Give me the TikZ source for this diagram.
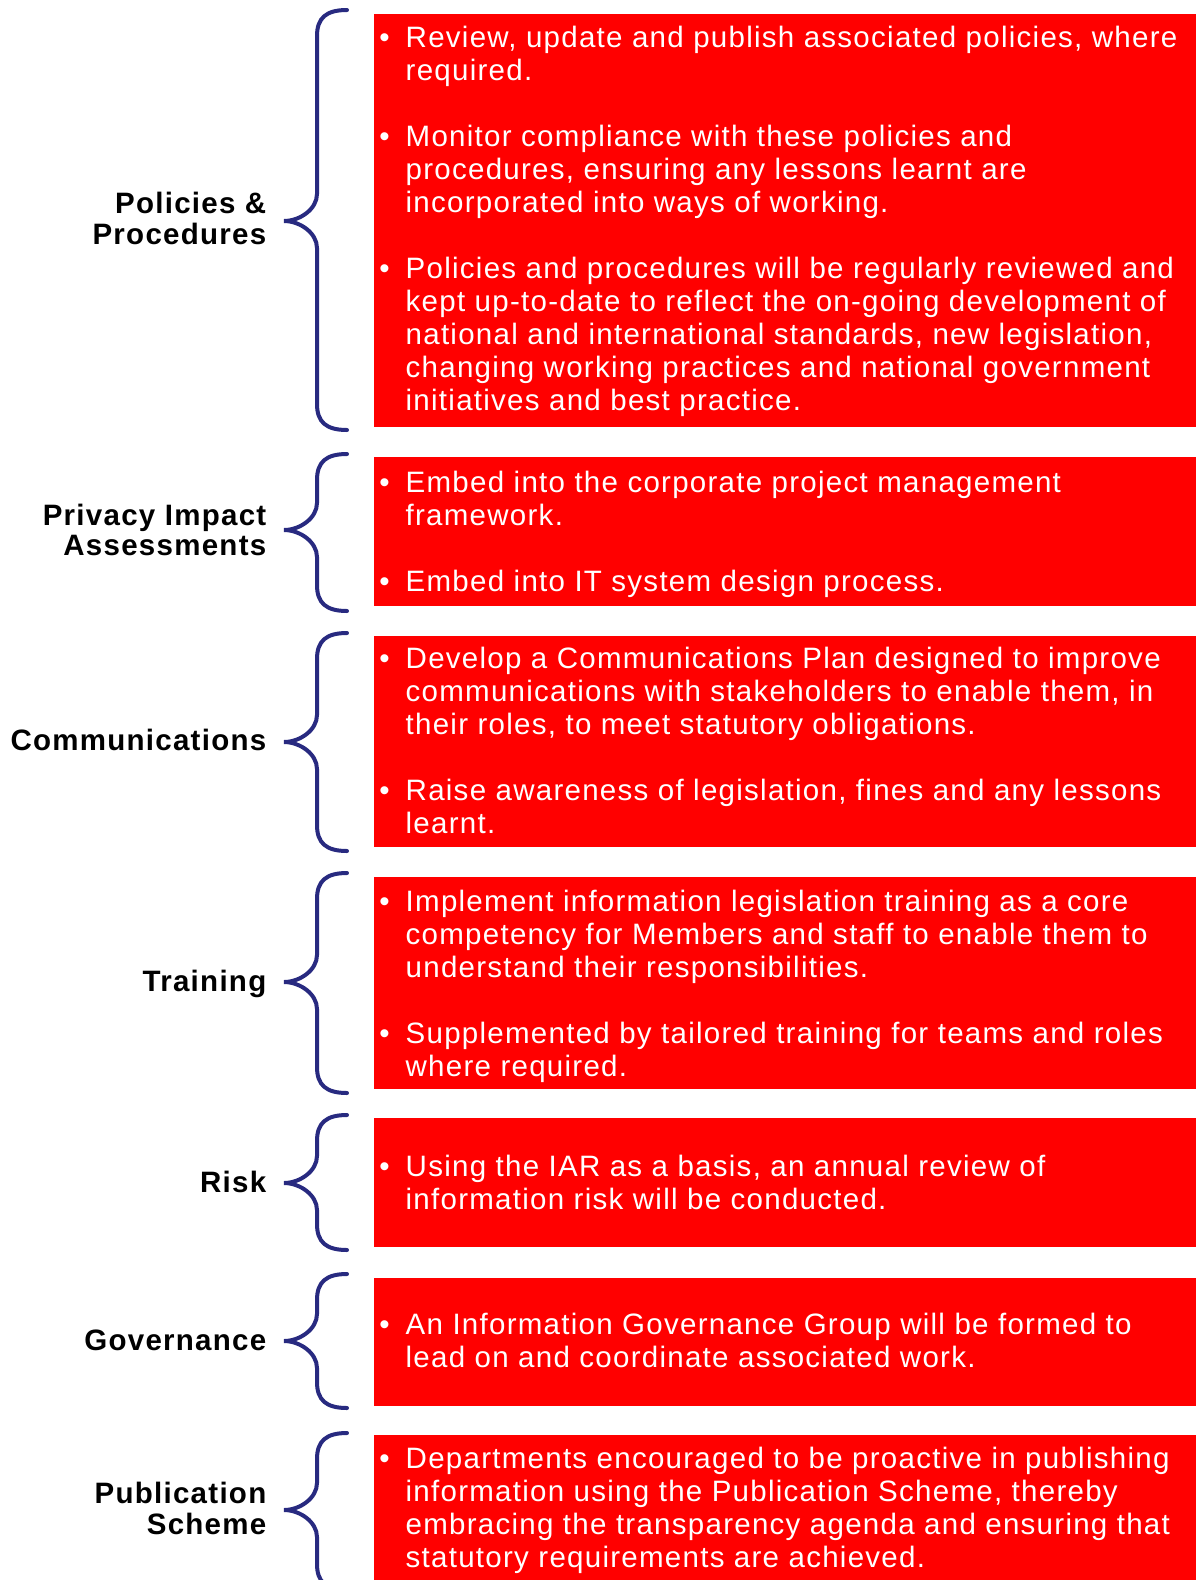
\documentclass[tikz,border=0pt]{standalone}
\usepackage{fontspec}
\newfontfamily\bodyfont[LetterSpace=4.3]{Liberation Sans}
\newfontfamily\labelfont[LetterSpace=4.3]{Liberation Sans}
\definecolor{bracecol}{RGB}{40,42,128}
\definecolor{boxred}{RGB}{255,0,0}
\newcommand{\bul}{\llap{\textbullet\hspace{16pt}}}
\newcommand{\mybrace}[3]{%
  \draw[bracepath] (347,#1) .. controls (326,#1) and (317,#1+8) .. (317,#1+26)
    -- (317,#2-27) .. controls (317,#2-12) and (300,#2) .. (284,#2)
    .. controls (300,#2) and (317,#2+12) .. (317,#2+27)
    -- (317,#3-26) .. controls (317,#3-8) and (326,#3) .. (347,#3);}
\tikzset{
  boxfill/.style={fill=boxred, draw=none},
  bodytext/.style={anchor=north west, inner sep=0pt, align=left, text=white,
    font=\bodyfont\fontsize{29.5}{33}\selectfont},
  labeltext/.style={anchor=north east, inner sep=0pt, align=right, text=black,
    font=\labelfont\bfseries\fontsize{29.5}{30.5}\selectfont},
  bracepath/.style={draw=bracecol, line width=4pt, line cap=round},
}
\begin{document}
\begin{tikzpicture}[x=1pt,y=-1pt]
\useasboundingbox (0,0) rectangle (1196,1580);
\fill[white] (0,0) rectangle (1196,1580);
% boxes
\fill[boxfill] (374,14) rectangle (1196,427);
\fill[boxfill] (374,457) rectangle (1196,606);
\fill[boxfill] (374,636) rectangle (1196,847);
\fill[boxfill] (374,877) rectangle (1196,1089);
\fill[boxfill] (374,1118) rectangle (1196,1247);
\fill[boxfill] (374,1278) rectangle (1196,1406);
\fill[boxfill] (374,1435) rectangle (1196,1600);
% braces
\mybrace{10}{221}{430}
\mybrace{454}{530}{611}
\mybrace{633}{742}{851}
\mybrace{873}{982}{1093}
\mybrace{1115}{1183}{1250}
\mybrace{1274}{1341}{1408}
\mybrace{1433}{1510}{1590}
% labels
\node[labeltext] (l1) at (266.5,213-21.35) {\strut Policies \&\\Procedures};
\node[labeltext] (l2) at (266.5,525-21.35) {\strut Privacy Impact\\Assessments};
\node[labeltext] (l3) at (266.5,750.5-21.35) {\strut Communications};
\node[labeltext] (l4) at (266.5,991-21.35) {\strut Training};
\node[labeltext] (l5) at (266.5,1192-21.35) {\strut Risk};
\node[labeltext] (l6) at (266.5,1350-21.35) {\strut Governance};
\node[labeltext] (l7) at (266.5,1503-21.35) {\strut Publication\\Scheme};
% texts
\node[bodytext] (t1) at (405.5,47.3-23.1) {\strut\bul Review, update and publish associated policies, where\\
required.\\[33pt]
\bul Monitor compliance with these policies and\\
procedures, ensuring any lessons learnt are\\
incorporated into ways of working.\\[33pt]
\bul Policies and procedures will be regularly reviewed and\\
kept up-to-date to reflect the on-going development of\\
national and international standards, new legislation,\\
changing working practices and national government\\
initiatives and best practice.};
\node[bodytext] (t2) at (405.5,492-23.1) {\strut\bul Embed into the corporate project management\\
framework.\\[33pt]
\bul Embed into IT system design process.};
\node[bodytext] (t3) at (405.5,668.5-23.1) {\strut\bul Develop a Communications Plan designed to improve\\
communications with stakeholders to enable them, in\\
their roles, to meet statutory obligations.\\[33pt]
\bul Raise awareness of legislation, fines and any lessons\\
learnt.};
\node[bodytext] (t4) at (405.5,911-23.1) {\strut\bul Implement information legislation training as a core\\
competency for Members and staff to enable them to\\
understand their responsibilities.\\[33pt]
\bul Supplemented by tailored training for teams and roles\\
where required.};
\node[bodytext] (t5) at (405.5,1176-23.1) {\strut\bul Using the IAR as a basis, an annual review of\\
information risk will be conducted.};
\node[bodytext] (t6) at (405.5,1334.5-23.1) {\strut\bul An Information Governance Group will be formed to\\
lead on and coordinate associated work.};
\node[bodytext] (t7) at (405.5,1468.5-23.1) {\strut\bul Departments encouraged to be proactive in publishing\\
information using the Publication Scheme, thereby\\
embracing the transparency agenda and ensuring that\\
statutory requirements are achieved.};
\end{tikzpicture}
\end{document}
